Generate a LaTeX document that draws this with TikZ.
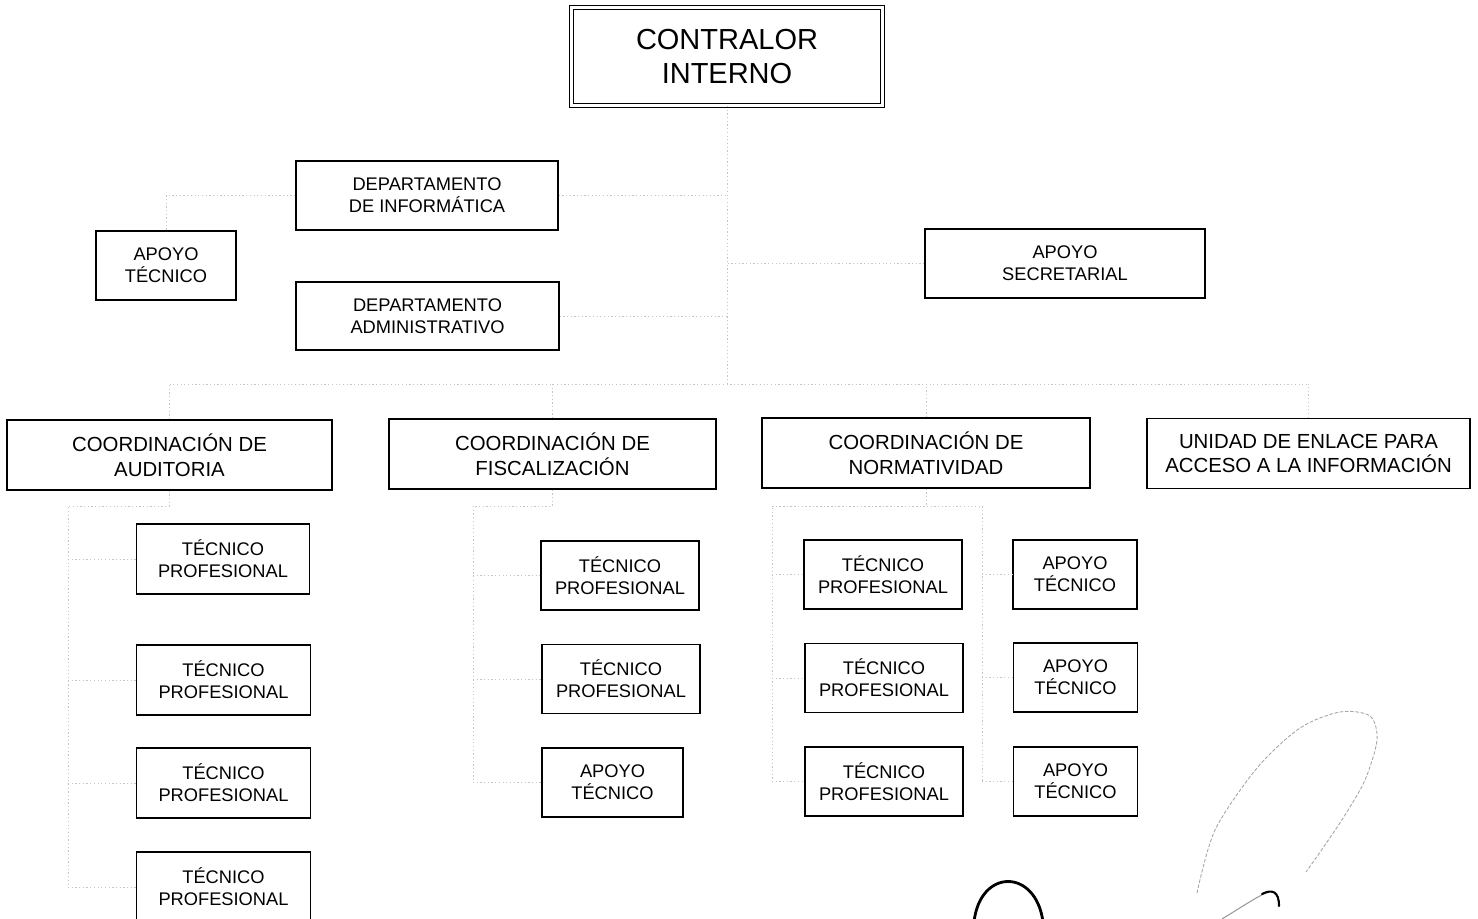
\documentclass[tikz,border=0pt]{standalone}
\usepackage{fontspec}
\setmainfont{Liberation Sans}
\begin{document}
\begin{tikzpicture}[x=.02cm, y=-.02cm,
  box/.style={draw, line width=.75pt, align=center, inner sep=0pt, font=\fontsize{10.4}{12.5}\selectfont},
  coord/.style={box, minimum height=1.4cm, font=\fontsize{11.6}{14.2}\selectfont},
  tec/.style={box, minimum width=3.16cm, minimum height=1.38cm},
  conn/.style={gray!45, line width=.4pt, dash pattern=on .7pt off 1.4pt}]
\useasboundingbox (0,0) rectangle (1478,919);

\node[box, double, double distance=1.3pt, line width=.6pt, minimum width=6.22cm, minimum height=1.96cm, font=\fontsize{16.5}{19}\selectfont] (ctrl) at (727,56.5) {CONTRALOR\\INTERNO};
\node[box, minimum width=5.24cm, minimum height=1.38cm] (dinf) at (427,195.5) {DEPARTAMENTO\\DE INFORMÁTICA};
\node[box, minimum width=2.8cm, minimum height=1.38cm] (apoyo) at (166,265.5) {APOYO\\TÉCNICO};
\node[box, minimum width=5.26cm, minimum height=1.36cm] (dadm) at (427.5,316) {DEPARTAMENTO\\ADMINISTRATIVO};
\node[box, minimum width=5.6cm, minimum height=1.38cm] (secre) at (1065,263.5) {APOYO\\SECRETARIAL};

\node[coord, minimum width=6.5cm] (caud) at (169.5,455) {COORDINACIÓN DE\\AUDITORIA};
\node[coord, minimum width=6.54cm] (cfis) at (552.5,454) {COORDINACIÓN DE\\FISCALIZACIÓN};
\node[coord, minimum width=6.56cm] (cnor) at (926,453) {COORDINACIÓN DE\\NORMATIVIDAD};
\node[coord, minimum width=6.46cm] (uenl) at (1308.5,453.5) {UNIDAD DE ENLACE PARA\\ACCESO A LA INFORMACIÓN};

\node[tec, minimum width=3.47cm, minimum height=1.4cm] (aud1) at (223,559) {TÉCNICO\\PROFESIONAL};
\node[tec, minimum width=3.47cm, minimum height=1.4cm] (aud2) at (223.5,680) {TÉCNICO\\PROFESIONAL};
\node[tec, minimum width=3.47cm, minimum height=1.4cm] (aud3) at (223.5,783) {TÉCNICO\\PROFESIONAL};
\node[tec, minimum width=3.47cm, minimum height=1.4cm] (aud4) at (223.5,887) {TÉCNICO\\PROFESIONAL};

\node[tec] (fis1) at (620,575.5) {TÉCNICO\\PROFESIONAL};
\node[tec] (fis2) at (621,679) {TÉCNICO\\PROFESIONAL};
\node[tec, minimum width=2.82cm] (fis3) at (612.5,782.5) {APOYO\\TÉCNICO};

\node[tec] (nor1) at (883,574.5) {TÉCNICO\\PROFESIONAL};
\node[tec] (nor2) at (884,678) {TÉCNICO\\PROFESIONAL};
\node[tec] (nor3) at (884,781.5) {TÉCNICO\\PROFESIONAL};
\node[tec, minimum width=2.48cm] (apn1) at (1075,574.5) {APOYO\\TÉCNICO};
\node[tec, minimum width=2.48cm] (apn2) at (1075.5,677.5) {APOYO\\TÉCNICO};
\node[tec, minimum width=2.48cm] (apn3) at (1075.5,781.5) {APOYO\\TÉCNICO};

\coordinate (bus) at (727,384);
\draw[conn] (ctrl.south) -- (bus);
\draw[conn] (dinf.east) -- (dinf.east -| bus);
\draw[conn] (dadm.east) -- (dadm.east -| bus);
\draw[conn] (secre.west) -- (secre.west -| bus);
\draw[conn] (dinf.west) -| (apoyo.north);
\draw[conn] (caud.north |- bus) -- (uenl.north |- bus);
\foreach \n in {caud,cfis,cnor,uenl}
  \draw[conn] (\n.north) -- (\n.north |- bus);

\coordinate (ja) at (68,506);
\draw[conn] (caud.south) |- (ja) -- (ja |- aud4.west);
\foreach \n in {aud1,aud2,aud3,aud4}
  \draw[conn] (ja |- \n.west) -- (\n.west);

\coordinate (jf) at (473,506);
\draw[conn] (cfis.south) |- (jf) -- (jf |- fis3.west);
\foreach \n in {fis1,fis2,fis3}
  \draw[conn] (jf |- \n.west) -- (\n.west);

\coordinate (jn) at (772,506);
\coordinate (jt) at (982,506);
\draw[conn] (cnor.south) |- (jn) -- (jn |- nor3.west);
\draw[conn] (jn) -- (jt) -- (jt |- apn3.west);
\foreach \n in {nor1,nor2,nor3}
  \draw[conn] (jn |- \n.west) -- (\n.west);
\foreach \n in {apn1,apn2,apn3}
  \draw[conn] (jt |- \n.west) -- (\n.west);

% firma
\draw[line width=1.6pt, line cap=round] (974,922) .. controls (980,868) and (1036,868) .. (1043,922);
\draw[gray!70, line width=.5pt, dash pattern=on 2pt off 1pt] plot[smooth] coordinates {(1197,893) (1215,830) (1257,768) (1300,728) (1340,712) (1370,716) (1377,740) (1365,780) (1345,815) (1325,845) (1306,872)};
\draw[gray!80, line width=.6pt] (1222,919) .. controls (1240,908) and (1258,896) .. (1268,892);
\draw[line width=1.2pt, line cap=round] (1262,894) .. controls (1272,889) and (1279,891) .. (1279,906);
\end{tikzpicture}
\end{document}
